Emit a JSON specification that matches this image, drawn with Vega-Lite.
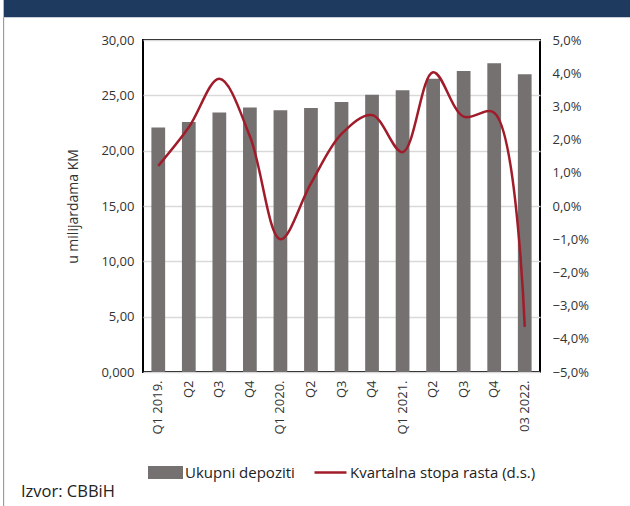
{
  "$schema": "https://vega.github.io/schema/vega-lite/v6.json",
  "width": 397,
  "height": 332,
  "autosize": {"type": "none"},
  "padding": {"left": 143, "top": 40, "right": 90, "bottom": 134},
  "background": "white",
  "title": {
    "text": "Izvor: CBBiH",
    "orient": "bottom",
    "anchor": "start",
    "frame": "group",
    "dx": -122,
    "dy": -32,
    "offset": 0,
    "fontSize": 16.5,
    "fontWeight": "normal",
    "font": "Open Sans",
    "color": "#222222"
  },
  "data": {
    "values": [
      {"q": "01|Q1 2019.", "dep": 22.1, "rate": 1.21},
      {"q": "02|Q2", "dep": 22.6, "rate": 2.37},
      {"q": "03|Q3", "dep": 23.45, "rate": 3.83},
      {"q": "04|Q4", "dep": 23.9, "rate": 2.1},
      {"q": "05|Q1 2020.", "dep": 23.65, "rate": -1.0},
      {"q": "06|Q2", "dep": 23.85, "rate": 0.68},
      {"q": "07|Q3", "dep": 24.4, "rate": 2.17},
      {"q": "08|Q4", "dep": 25.05, "rate": 2.74},
      {"q": "09|Q1 2021.", "dep": 25.45, "rate": 1.62},
      {"q": "10|Q2", "dep": 26.5, "rate": 4.03},
      {"q": "11|Q3", "dep": 27.2, "rate": 2.69},
      {"q": "12|Q4", "dep": 27.9, "rate": 2.81},
      {"q": "13|03 2022.", "dep": 26.9, "rate": -3.64}
    ]
  },
  "layer": [
    {
      "data": {"values": [{"k": 1}]},
      "mark": {"type": "rect", "color": "#1f3a5f", "clip": false},
      "encoding": {
        "x": {"datum": -0.351, "type": "quantitative", "scale": {"domain": [0, 1], "nice": false}, "axis": null},
        "x2": {"datum": 1.3},
        "y": {"datum": 32.05, "type": "quantitative", "scale": {"domain": [0, 30], "nice": false}, "axis": null},
        "y2": {"datum": 36}
      }
    },
    {
      "mark": {"type": "bar", "clip": false},
      "encoding": {
        "x": {
          "field": "q", "type": "nominal", "sort": null,
          "scale": {"paddingInner": 0.55, "paddingOuter": 0.275},
          "axis": {
            "title": null, "labelAngle": -90, "domain": false, "ticks": false,
            "labelPadding": 8,
            "labelExpr": "split(datum.value, '|')[1]"
          }
        },
        "y": {
          "field": "dep", "type": "quantitative",
          "scale": {"domain": [0, 30], "nice": false},
          "axis": {
            "title": "u milijardama KM",
            "values": [0, 5, 10, 15, 20, 25, 30],
            "labelExpr": "datum.value == 0 ? '0,000' : replace(format(datum.value, '.2f'), '.', ',')",
            "domain": false, "ticks": false, "labelPadding": 9,
            "grid": true, "gridColor": "#d9d9d9", "gridWidth": 1.5,
            "titlePadding": 20,
            "titleFontSize": 14
          }
        },
        "fill": {
          "datum": "Ukupni depoziti",
          "scale": {"range": ["#767171"]},
          "legend": {
            "title": null,
            "symbolType": "M-1,-0.37H1V0.37H-1Z",
            "symbolSize": 1225,
            "symbolStrokeWidth": 0,
            "labelOffset": 2
          }
        }
      }
    },
    {
      "mark": {"type": "line", "interpolate": "catmull-rom", "strokeWidth": 2.5, "clip": false},
      "encoding": {
        "x": {"field": "q", "type": "nominal", "sort": null,
          "scale": {"paddingInner": 0.55, "paddingOuter": 0.275}, "axis": null},
        "y": {
          "field": "rate", "type": "quantitative",
          "scale": {"domain": [-5, 5], "nice": false},
          "axis": {
            "orient": "right", "title": null,
            "values": [-5, -4, -3, -2, -1, 0, 1, 2, 3, 4, 5],
            "labelExpr": "replace(format(datum.value, '.1f'), '.', ',') + '%'",
            "domain": false, "ticks": false, "grid": false, "labelPadding": 12
          }
        },
        "stroke": {
          "datum": "Kvartalna stopa rasta (d.s.)",
          "scale": {"range": ["#a01c2a"]},
          "legend": {
            "title": null,
            "symbolType": "stroke",
            "symbolSize": 1024,
            "symbolStrokeWidth": 2.5,
            "labelOffset": 2
          }
        }
      }
    },
    {
      "data": {"values": [{"k": 1}]},
      "mark": {"type": "rule", "color": "#8c8c8c", "strokeWidth": 1, "clip": false},
      "encoding": {
        "x": {"datum": -0.351, "type": "quantitative", "scale": {"domain": [0, 1], "nice": false}, "axis": null},
        "y": {"datum": 32.05, "type": "quantitative", "scale": {"domain": [0, 30], "nice": false}, "axis": null},
        "y2": {"datum": -13}
      }
    }
  ],
  "resolve": {"scale": {"x": "independent", "y": "independent", "fill": "independent", "stroke": "independent"}},
  "config": {
    "font": "Open Sans",
    "view": {"stroke": "#000000", "strokeWidth": 2},
    "axis": {
      "labelFont": "Open Sans", "labelFontSize": 13, "labelColor": "#333333",
      "titleFont": "Open Sans", "titleFontSize": 13, "titleFontWeight": "normal", "titleColor": "#333333"
    },
    "legend": {
      "orient": "bottom",
      "direction": "horizontal",
      "labelFont": "Open Sans", "labelFontSize": 15, "labelColor": "#222222",
      "labelLimit": 300,
      "offset": 20,
      "layout": {"bottom": {"anchor": "middle", "direction": "horizontal", "margin": 18}}
    }
  }
}
